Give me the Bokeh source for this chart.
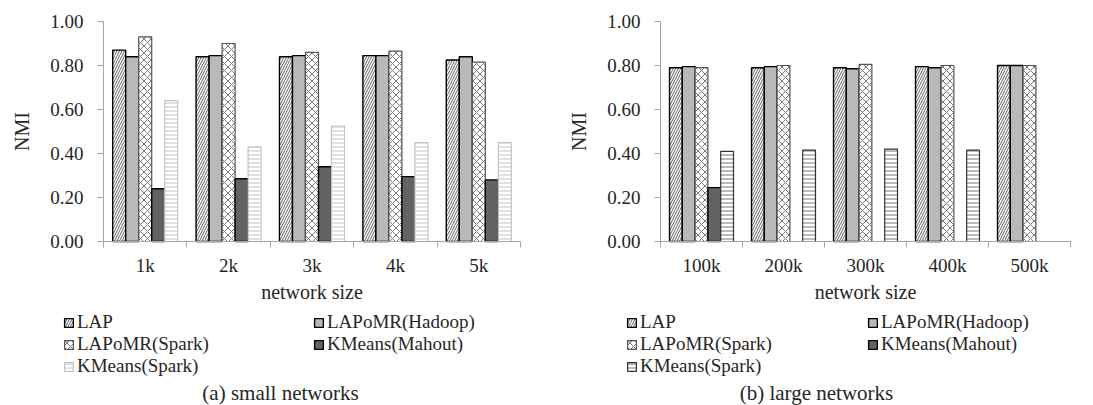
import numpy as np
from bokeh.plotting import figure
from bokeh.models import (ColumnDataSource, Range1d, FixedTicker, Legend,
                          LegendItem, Label)
from bokeh.layouts import row
from bokeh.embed import file_html
from bokeh.resources import INLINE

# ---- data -------------------------------------------------------------
series_names = ["LAP", "LAPoMR(Hadoop)", "LAPoMR(Spark)", "KMeans(Mahout)", "KMeans(Spark)"]

small_sizes = ["1k", "2k", "3k", "4k", "5k"]
small_lap = [0.87, 0.84, 0.84, 0.845, 0.825]
small_lapomr_hadoop = [0.84, 0.845, 0.845, 0.845, 0.84]
small_lapomr_spark = [0.93, 0.90, 0.86, 0.865, 0.815]
small_kmeans_mahout = [0.24, 0.285, 0.34, 0.295, 0.28]
small_kmeans_spark = [0.64, 0.43, 0.525, 0.45, 0.45]

large_sizes = ["100k", "200k", "300k", "400k", "500k"]
large_lap = [0.79, 0.79, 0.79, 0.795, 0.80]
large_lapomr_hadoop = [0.795, 0.795, 0.785, 0.79, 0.80]
large_lapomr_spark = [0.79, 0.80, 0.805, 0.80, 0.80]
large_kmeans_mahout = [0.245, None, None, None, None]
large_kmeans_spark = [0.41, 0.415, 0.42, 0.415, None]

y_ticks = [0.0, 0.2, 0.4, 0.6, 0.8, 1.0]

# ---- styling ----------------------------------------------------------
FONT = "'Liberation Serif', 'Times New Roman', serif"
AXIS_GREY = "#a6a6a6"
TEXT = "#262626"
BAR_W = 0.156
HEIGHT = 405
PLOT_TOP, PLOT_BOTTOM = 21, 241      # pixel rows of NMI = 1 and NMI = 0
# legend is filled column by column; this order reads row by row in two columns
LEGEND_ORDER = [0, 2, 4, 1, 3]


def bar_styles(light_kspark):
    return [
        dict(fill_color="white", line_color="black", line_width=1.4,
             hatch_pattern="right_diagonal_line", hatch_color="#3a3a3a",
             hatch_scale=5, hatch_weight=0.8),
        dict(fill_color="#b9b9b9", line_color="black", line_width=1.4),
        dict(fill_color="white", line_color="#555555", line_width=1.2,
             hatch_pattern="diagonal_cross", hatch_color="#555555",
             hatch_scale=7, hatch_weight=0.8),
        dict(fill_color="#636363", line_color="black", line_width=1.4),
        (dict(fill_color="white", line_color="#c4c4c4", line_width=1.2,
              hatch_pattern="horizontal_line", hatch_color="#c4c4c4",
              hatch_scale=4, hatch_weight=1.0)
         if light_kspark else
         dict(fill_color="white", line_color="#333333", line_width=1.2,
              hatch_pattern="horizontal_line", hatch_color="#777777",
              hatch_scale=4, hatch_weight=1.0)),
    ]


def panel(sizes, values, styles, caption, width, axis_left, axis_right,
          legend_x, legend_label_w, caption_x):
    n = len(sizes)
    px_x = (axis_right - axis_left) / n            # pixels per category
    px_y = PLOT_BOTTOM - PLOT_TOP                  # pixels per NMI unit
    # the frame covers the whole canvas so that legend and caption are not clipped
    x_range = Range1d(-axis_left / px_x, n + (width - axis_right) / px_x)
    y_range = Range1d(-(HEIGHT - PLOT_BOTTOM) / px_y, 1 + PLOT_TOP / px_y)

    p = figure(width=width, height=HEIGHT, output_backend="svg", toolbar_location=None,
               x_range=x_range, y_range=y_range,
               min_border_left=0, min_border_right=0,
               min_border_top=0, min_border_bottom=0)
    p.outline_line_color = None
    p.grid.grid_line_color = None
    p.background_fill_color = "white"
    p.border_fill_color = "white"

    centers = np.arange(n) + 0.5
    items = []
    for k, (name, vals, st) in enumerate(zip(series_names, values, styles)):
        top = np.array([np.nan if v is None else v for v in vals], dtype=float)
        src = ColumnDataSource(dict(x=centers + (k - 2) * BAR_W, top=top))
        r = p.vbar(x="x", top="top", bottom=0, width=BAR_W, source=src, **st)
        items.append(LegendItem(label=name, renderers=[r]))

    # y axis
    ya = p.yaxis[0]
    ya.fixed_location = 0
    ya.bounds = (0, 1)
    ya.ticker = FixedTicker(ticks=y_ticks)
    ya.major_label_overrides = {t: f"{t:.2f}" for t in y_ticks}
    ya.axis_line_color = AXIS_GREY
    ya.major_tick_line_color = AXIS_GREY
    ya.major_tick_out = 6
    ya.major_tick_in = 0
    ya.minor_tick_line_color = None
    ya.major_label_standoff = 14
    ya.major_label_text_font = FONT
    ya.major_label_text_font_size = "19px"
    ya.major_label_text_color = TEXT
    ya.axis_label = "NMI"
    ya.axis_label_text_font = FONT
    ya.axis_label_text_font_style = "normal"
    ya.axis_label_text_font_size = "20px"
    ya.axis_label_text_color = TEXT
    ya.axis_label_standoff = 14

    # x axis: labels at category centres, tick marks at category boundaries
    xa = p.xaxis[0]
    xa.fixed_location = 0
    xa.bounds = (0, n)
    xa.ticker = FixedTicker(ticks=list(centers), minor_ticks=list(range(n + 1)))
    xa.major_label_overrides = {float(c): s for c, s in zip(centers, sizes)}
    xa.axis_line_color = AXIS_GREY
    xa.major_tick_line_color = None
    xa.major_tick_out = 0
    xa.major_tick_in = 0
    xa.minor_tick_line_color = AXIS_GREY
    xa.minor_tick_out = 6
    xa.minor_tick_in = 0
    xa.major_label_standoff = 7
    xa.major_label_text_font = FONT
    xa.major_label_text_font_size = "19px"
    xa.major_label_text_color = TEXT
    xa.axis_label = "network size"
    xa.axis_label_text_font = FONT
    xa.axis_label_text_font_style = "normal"
    xa.axis_label_text_font_size = "20px"
    xa.axis_label_text_color = TEXT
    xa.axis_label_standoff = 2

    legend = Legend(items=[items[i] for i in LEGEND_ORDER],
                    location=(legend_x, 28), ncols=2,
                    label_text_font=FONT, label_text_font_size="19px",
                    label_text_color=TEXT, glyph_width=11, glyph_height=11,
                    label_standoff=3, label_width=legend_label_w, label_height=18,
                    spacing=0, padding=0, margin=0,
                    border_line_color=None, background_fill_alpha=0)
    p.add_layout(legend)

    p.add_layout(Label(x=caption_x, y=13, x_units="screen", y_units="screen",
                       text=caption, text_align="center", text_baseline="middle",
                       text_font=FONT, text_font_size="21px", text_color=TEXT))
    return p


left = panel(small_sizes,
             [small_lap, small_lapomr_hadoop, small_lapomr_spark,
              small_kmeans_mahout, small_kmeans_spark],
             bar_styles(True), "(a) small networks",
             540, 103, 520, 63, 236, 280)
right = panel(large_sizes,
              [large_lap, large_lapomr_hadoop, large_lapomr_spark,
               large_kmeans_mahout, large_kmeans_spark],
              bar_styles(False), "(b) large networks",
              553, 120, 530, 86, 227, 276)

layout = row(left, right, spacing=0)
open("out.html", "w").write(file_html(layout, INLINE))
